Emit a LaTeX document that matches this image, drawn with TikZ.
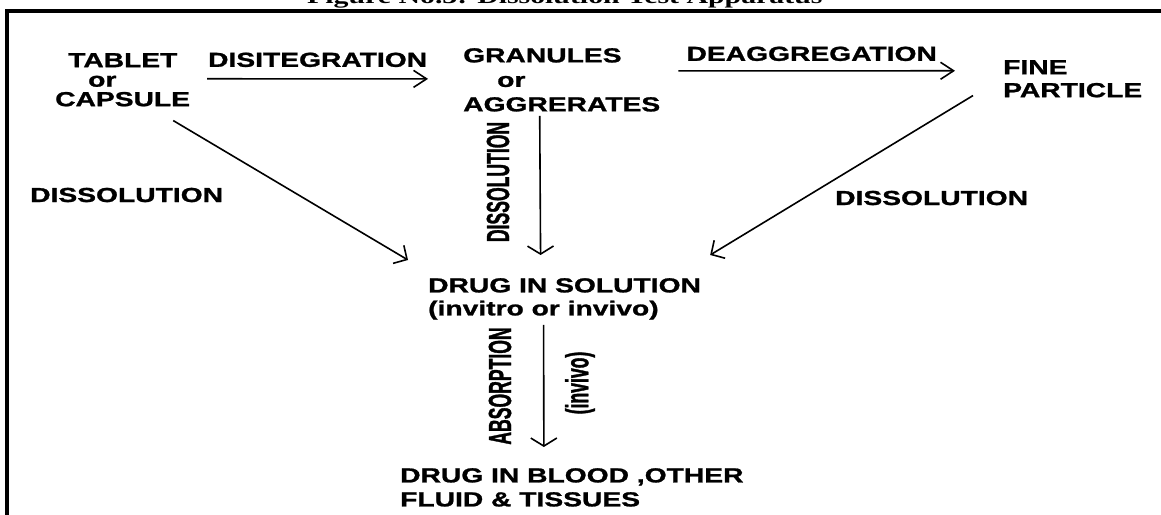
\documentclass[tikz,border=0pt]{standalone}
\usepackage{fontspec}
\setmainfont{Liberation Sans}
\newfontfamily\widefont{Liberation Sans}[FakeStretch=1.39, FakeBold=1.2]
\newfontfamily\narrowfont{Liberation Sans}[FakeStretch=0.55, FakeBold=1]
\newfontfamily\titlefont{Liberation Serif}[FakeStretch=1.4]
\usetikzlibrary{arrows.meta}

\begin{document}
\begin{tikzpicture}[x=1pt, y=-1pt,
  txt/.style={inner sep=0pt, align=left, font=\widefont\bfseries\fontsize{20.3}{24}\selectfont},
  vtxt/.style={inner sep=0pt, rotate=90, font=\narrowfont\bfseries\fontsize{32}{32}\selectfont},
  harrow/.style={line width=1.6pt, -{Straight Barb[length=13pt, width=17pt]}},
  varrow/.style={line width=1.6pt, -{Straight Barb[length=8pt, width=26pt]}},
  darrow/.style={line width=1.6pt, -{Straight Barb[length=10pt, width=21pt]}}]
  \useasboundingbox (0,0) rectangle (1161,514);
  \clip (0,0) rectangle (1161,514);
  % caption (cut at the top) and frame
  \node [anchor=base west, inner sep=0pt, font=\titlefont\bfseries\fontsize{21.3}{24}\selectfont] (title) at (307,4) {Figure No.3: Dissolution Test Apparatus};
  \draw [line width=4pt] (7,530) -- (7,11) -- (1170,11);
  % stages
  \node [txt, anchor=north west, font=\widefont\bfseries\fontsize{20.3}{19.5}\selectfont] (tablet) at (55,53) {\hspace*{13pt}TABLET\\\hspace*{33pt}or\\CAPSULE};
  \node [txt, anchor=north west, font=\widefont\bfseries\fontsize{20.3}{24.5}\selectfont] (granules) at (463,48) {GRANULES\\\hspace*{34pt}or\\AGGRERATES};
  \node [txt, anchor=north west, font=\widefont\bfseries\fontsize{20.3}{23}\selectfont] (fine) at (1003,60) {FINE\\PARTICLE};
  \node [txt, anchor=north west, font=\widefont\bfseries\fontsize{20.3}{23}\selectfont] (solution) at (428,278) {DRUG IN SOLUTION\\(invitro or invivo)};
  \node [txt, anchor=north west] (blood) at (400,468) {DRUG IN BLOOD ,OTHER\\FLUID \& TISSUES};
  % arrows
  \draw [harrow] ([shift={(17,-1)}]tablet.east) -- ([shift={(-35,-1)}]granules.west)
    node [txt, midway, above=11pt] (disint) {DISITEGRATION};
  \draw [harrow] ([shift={(18,-9)}]granules.east) -- ([shift={(-48,-8)}]fine.west)
    node [txt, midway, above=9pt, xshift=-5pt] (deagg) {DEAGGREGATION};
  \draw [darrow] ([shift={(-17,14)}]tablet.south east) -- ([shift={(-20,-18)}]solution.north west);
  \draw [varrow] ([shift={(-22,4)}]granules.south) -- ([shift={(-24,-23)}]solution.north);
  \draw [darrow] ([shift={(-30,-2)}]fine.south west) -- ([shift={(9,-23)}]solution.north east);
  \draw [varrow] ([shift={(-21,5)}]solution.south) -- ([shift={(-28,-21)}]blood.north);
  % labels
  \node [txt, anchor=base west] (disleft) at (30,202) {DISSOLUTION};
  \node [txt, anchor=base west] (disright) at (835,205) {DISSOLUTION};
  \node [vtxt] (disvert) at (498,182) {DISSOLUTION};
  \node [vtxt] (absorb) at (500,386) {ABSORPTION};
  \node [vtxt] (invivo) at (580,383) {(invivo)};
\end{tikzpicture}
\end{document}
